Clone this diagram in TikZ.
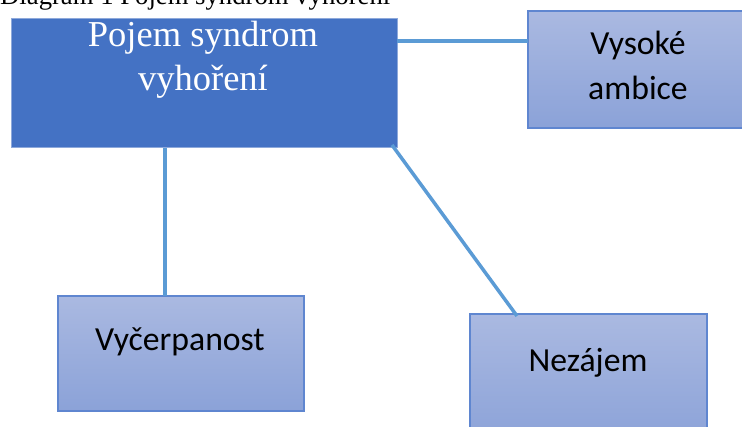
\documentclass[tikz,border=0pt]{standalone}
\usepackage{fontspec}
\setmainfont{Liberation Serif}
\newfontfamily\calibri{Carlito}
\definecolor{mainfill}{HTML}{4472C4}
\definecolor{mainedge}{HTML}{8EA9DB}
\definecolor{boxtop}{HTML}{AAB9E1}
\definecolor{boxbot}{HTML}{8BA2D8}
\definecolor{boxedge}{HTML}{5F86D0}
\definecolor{linkblue}{HTML}{5B9BD5}
\begin{document}
\begin{tikzpicture}[x=1pt,y=-1pt,
  mainbox/.style={draw=mainedge, line width=1pt, fill=mainfill, anchor=north west,
    inner sep=0pt, outer sep=0pt},
  subbox/.style={draw=boxedge, line width=1.5pt, top color=boxtop, bottom color=boxbot,
    anchor=north west, inner sep=0pt, outer sep=0pt},
  mainlabel/.style={text=white, font=\fontsize{36.5}{44}\selectfont, align=center,
    anchor=base, inner sep=0pt},
  sublabel/.style={text=black, font=\calibri\fontsize{33.7}{45}\selectfont, align=center,
    anchor=base, inner sep=0pt},
  link/.style={draw=linkblue, line width=3.5pt},
]
\clip (0,0) rectangle (742,427);

% caption line, cut by the top edge
\node[font=\fontsize{26.7}{32}\selectfont, anchor=base west, inner sep=0pt]
  (cap) at (0,5) {Diagram 1 Pojem syndrom vyhoření};

% boxes
\node[mainbox, minimum width=386pt, minimum height=129pt] (main) at (11,19) {};
\node[subbox, minimum width=222pt, minimum height=117pt] (vys) at (528,11) {};
\node[subbox, minimum width=246pt, minimum height=115pt] (vyc) at (58,296) {};
\node[subbox, minimum width=237pt, minimum height=130pt] (nez) at (470,314) {};

% labels (base anchor of a two-line label sits on its last line)
\node[mainlabel] (mainlbl) at (203,91) {Pojem syndrom\\vyhoření};
\node[sublabel] (vyslbl) at (638,100) {Vysoké\\ambice};
\node[sublabel] (vyclbl) at (180,351) {Vyčerpanost};
\node[sublabel] (nezlbl) at (588,372) {Nezájem};

% connectors
\draw[link] ([yshift=-22pt]main.north east) -- ([yshift=-30pt]vys.north west);
\draw[link] ([xshift=154pt]main.south west) -- ([xshift=107pt]vyc.north west);
\draw[link] ([xshift=-5pt,yshift=3pt]main.south east) -- ([xshift=47pt,yshift=-2pt]nez.north west);
\end{tikzpicture}
\end{document}
